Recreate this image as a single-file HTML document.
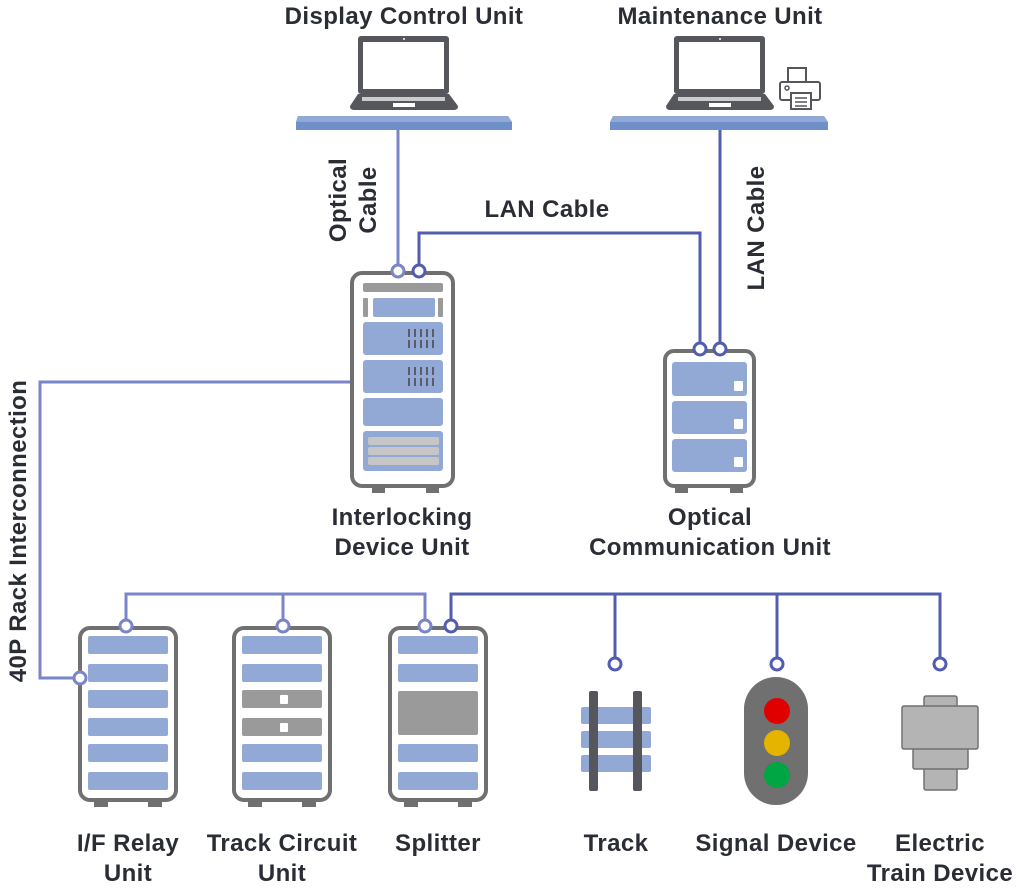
<!DOCTYPE html>
<html><head><meta charset="utf-8"><style>
html,body{margin:0;padding:0;background:#fff;}
svg{display:block;}
text{font-family:"Liberation Sans",sans-serif;font-weight:bold;font-size:24px;letter-spacing:0.4px;fill:#2a2d35;}
</style></head><body>
<svg width="1017" height="888" viewBox="0 0 1017 888" xmlns="http://www.w3.org/2000/svg">
<!-- labels -->
<text x="404" y="24" text-anchor="middle">Display Control Unit</text>
<text x="720" y="24" text-anchor="middle">Maintenance Unit</text>
<text x="547" y="217" text-anchor="middle">LAN Cable</text>
<text transform="translate(346,200) rotate(-90)" text-anchor="middle">Optical</text>
<text transform="translate(376,200) rotate(-90)" text-anchor="middle">Cable</text>
<text transform="translate(764,228) rotate(-90)" text-anchor="middle">LAN Cable</text>
<text transform="translate(26,531) rotate(-90)" text-anchor="middle">40P Rack Interconnection</text>
<text x="402" y="525" text-anchor="middle">Interlocking</text>
<text x="402" y="555" text-anchor="middle">Device Unit</text>
<text x="710" y="525" text-anchor="middle">Optical</text>
<text x="710" y="555" text-anchor="middle">Communication Unit</text>
<text x="128" y="851" text-anchor="middle">I/F Relay</text>
<text x="128" y="881" text-anchor="middle">Unit</text>
<text x="282" y="851" text-anchor="middle">Track Circuit</text>
<text x="282" y="881" text-anchor="middle">Unit</text>
<text x="438" y="851" text-anchor="middle">Splitter</text>
<text x="616" y="851" text-anchor="middle">Track</text>
<text x="776" y="851" text-anchor="middle">Signal Device</text>
<text x="940" y="851" text-anchor="middle">Electric</text>
<text x="940" y="881" text-anchor="middle">Train Device</text>

<!-- laptops -->
<g id="lap">
<rect x="358" y="36" width="91" height="58" rx="3" fill="#55575c"/>
<rect x="363" y="42" width="81" height="47" fill="#fff"/>
<circle cx="404" cy="39" r="1" fill="#fff"/>
<path d="M358 94 H449 L458 106 Q458 110 454 110 H354 Q350 110 350 106 Z" fill="#55575c"/>
<rect x="362" y="97" width="83" height="4" fill="#ccc"/>
<rect x="393" y="103" width="22" height="4" fill="#fff"/>
</g>
<use href="#lap" x="316"/>
<!-- printer -->
<rect x="788" y="68" width="18" height="14" fill="#fff" stroke="#55575c" stroke-width="2"/>
<rect x="780" y="82" width="40" height="18" rx="2" fill="#fff" stroke="#55575c" stroke-width="2"/>
<circle cx="787" cy="88" r="2" fill="none" stroke="#55575c" stroke-width="1.5"/>
<rect x="791" y="93" width="20" height="16" fill="#fff" stroke="#55575c" stroke-width="2"/>
<path d="M795 98H807M795 102H807M795 106H807" stroke="#55575c" stroke-width="1.5"/>
<!-- shelves -->
<path d="M298 116 H508 L512 122 V130 H296 V122 Z" fill="#6f8fc9"/>
<path d="M298 116 H508 L512 122 H296 Z" fill="#92a9d8"/>
<path d="M613 116 H824 L828 122 V130 H610 V122 Z" fill="#6f8fc9"/>
<path d="M613 116 H824 L828 122 H610 Z" fill="#92a9d8"/>

<!-- connectors -->
<g fill="none" stroke-width="3">
<path d="M398 130 V265" stroke="#7a85c8"/>
<path d="M419 265 V233 H700 V343" stroke="#525db0"/>
<path d="M720 130 V343" stroke="#525db0"/>
<path d="M351 382 H40 V678 H74" stroke="#7a85c8"/>
<path d="M126 621 V594 H425 V621 M283 594 V621" stroke="#7a85c8"/>
<path d="M451 621 V594 H940 V658 M615 594 V658 M777 594 V658" stroke="#525db0"/>
</g>

<!-- interlocking rack -->
<rect x="352" y="273" width="101" height="213" rx="10" fill="#fff" stroke="#707070" stroke-width="4"/>
<rect x="372" y="486" width="13" height="7" fill="#707070"/><rect x="426" y="486" width="13" height="7" fill="#707070"/>
<rect x="363" y="283" width="80" height="9" rx="2" fill="#9a9a9a"/>
<rect x="363" y="298" width="5" height="19" rx="1" fill="#9a9a9a"/><rect x="438" y="298" width="5" height="19" rx="1" fill="#9a9a9a"/>
<rect x="373" y="298" width="62" height="19" rx="2" fill="#92a9d6"/>
<rect x="363" y="322" width="80" height="33" rx="3" fill="#92a9d6"/>
<rect x="363" y="360" width="80" height="33" rx="3" fill="#92a9d6"/>
<rect x="363" y="398" width="80" height="28" rx="3" fill="#92a9d6"/>
<rect x="363" y="431" width="80" height="40" rx="3" fill="#92a9d6"/>
<rect x="368" y="437" width="71" height="8" rx="2" fill="#c6c6c6"/>
<rect x="368" y="447" width="71" height="8" rx="2" fill="#c6c6c6"/>
<rect x="368" y="457" width="71" height="8" rx="2" fill="#c6c6c6"/>
<g stroke="#4a4a50" stroke-width="1.6">
<path d="M409 329v8M415 329v8M421 329v8M427 329v8M433 329v8M409 340v8M415 340v8M421 340v8M427 340v8M433 340v8"/>
<path d="M409 367v8M415 367v8M421 367v8M427 367v8M433 367v8M409 378v8M415 378v8M421 378v8M427 378v8M433 378v8"/>
</g>

<!-- optical comm unit -->
<rect x="665" y="351" width="89" height="135" rx="9" fill="#fff" stroke="#707070" stroke-width="4"/>
<rect x="675" y="486" width="13" height="7" fill="#707070"/><rect x="730" y="486" width="13" height="7" fill="#707070"/>
<rect x="672" y="362" width="75" height="34" rx="3" fill="#92a9d6"/>
<rect x="672" y="401" width="75" height="33" rx="3" fill="#92a9d6"/>
<rect x="672" y="439" width="75" height="33" rx="3" fill="#92a9d6"/>
<rect x="734" y="381" width="9" height="10" rx="1" fill="#fff"/>
<rect x="734" y="419" width="9" height="10" rx="1" fill="#fff"/>
<rect x="734" y="457" width="9" height="10" rx="1" fill="#fff"/>

<!-- lower racks -->
<g id="rk">
<rect x="80" y="628" width="96" height="172" rx="10" fill="#fff" stroke="#707070" stroke-width="4"/>
<rect x="94" y="800" width="14" height="7" fill="#707070"/><rect x="148" y="800" width="14" height="7" fill="#707070"/>
</g>
<use href="#rk" x="154"/>
<use href="#rk" x="310"/>
<g fill="#92a9d6">
<rect x="88" y="636" width="80" height="18" rx="2"/><rect x="88" y="664" width="80" height="18" rx="2"/>
<rect x="88" y="690" width="80" height="18" rx="2"/><rect x="88" y="718" width="80" height="18" rx="2"/>
<rect x="88" y="744" width="80" height="18" rx="2"/><rect x="88" y="772" width="80" height="18" rx="2"/>
<rect x="242" y="636" width="80" height="18" rx="2"/><rect x="242" y="664" width="80" height="18" rx="2"/>
<rect x="242" y="744" width="80" height="18" rx="2"/><rect x="242" y="772" width="80" height="18" rx="2"/>
<rect x="398" y="636" width="80" height="18" rx="2"/><rect x="398" y="664" width="80" height="18" rx="2"/>
<rect x="398" y="744" width="80" height="18" rx="2"/><rect x="398" y="772" width="80" height="18" rx="2"/>
</g>
<rect x="242" y="690" width="80" height="18" rx="2" fill="#9a9a9a"/>
<rect x="242" y="718" width="80" height="18" rx="2" fill="#9a9a9a"/>
<rect x="280" y="695" width="8" height="9" rx="1" fill="#fff"/>
<rect x="280" y="723" width="8" height="9" rx="1" fill="#fff"/>
<rect x="398" y="691" width="80" height="44" rx="2" fill="#9a9a9a"/>

<!-- track -->
<g fill="#92a9d6">
<rect x="581" y="707" width="70" height="17" rx="2"/><rect x="581" y="731" width="70" height="17" rx="2"/><rect x="581" y="755" width="70" height="17" rx="2"/>
</g>
<rect x="589" y="691" width="9" height="100" rx="2" fill="#55575c"/>
<rect x="633" y="691" width="9" height="100" rx="2" fill="#55575c"/>
<!-- signal -->
<rect x="744" y="677" width="64" height="128" rx="32" fill="#707070"/>
<circle cx="777" cy="711" r="13" fill="#e00000"/>
<circle cx="777" cy="743" r="13" fill="#e5b400"/>
<circle cx="777" cy="775" r="13" fill="#00a544"/>
<!-- electric train device -->
<g fill="#b4b4b4" stroke="#707070" stroke-width="1.5">
<rect x="924" y="696" width="33" height="13" rx="2"/>
<rect x="924" y="768" width="33" height="22" rx="2"/>
<rect x="913" y="748" width="55" height="21" rx="2"/>
<rect x="902" y="706" width="76" height="43" rx="2"/>
</g>

<!-- connector circles -->
<g fill="#fff" stroke-width="3">
<circle cx="398" cy="271" r="6" stroke="#7a85c8"/>
<circle cx="419" cy="271" r="6" stroke="#525db0"/>
<circle cx="700" cy="349" r="6" stroke="#525db0"/>
<circle cx="720" cy="349" r="6" stroke="#525db0"/>
<circle cx="80" cy="678" r="6" stroke="#7a85c8"/>
<circle cx="126" cy="626" r="6" stroke="#7a85c8"/>
<circle cx="283" cy="626" r="6" stroke="#7a85c8"/>
<circle cx="425" cy="626" r="6" stroke="#7a85c8"/>
<circle cx="451" cy="626" r="6" stroke="#525db0"/>
<circle cx="615" cy="664" r="6" stroke="#525db0"/>
<circle cx="777" cy="664" r="6" stroke="#525db0"/>
<circle cx="940" cy="664" r="6" stroke="#525db0"/>
</g>
</svg>
</body></html>
